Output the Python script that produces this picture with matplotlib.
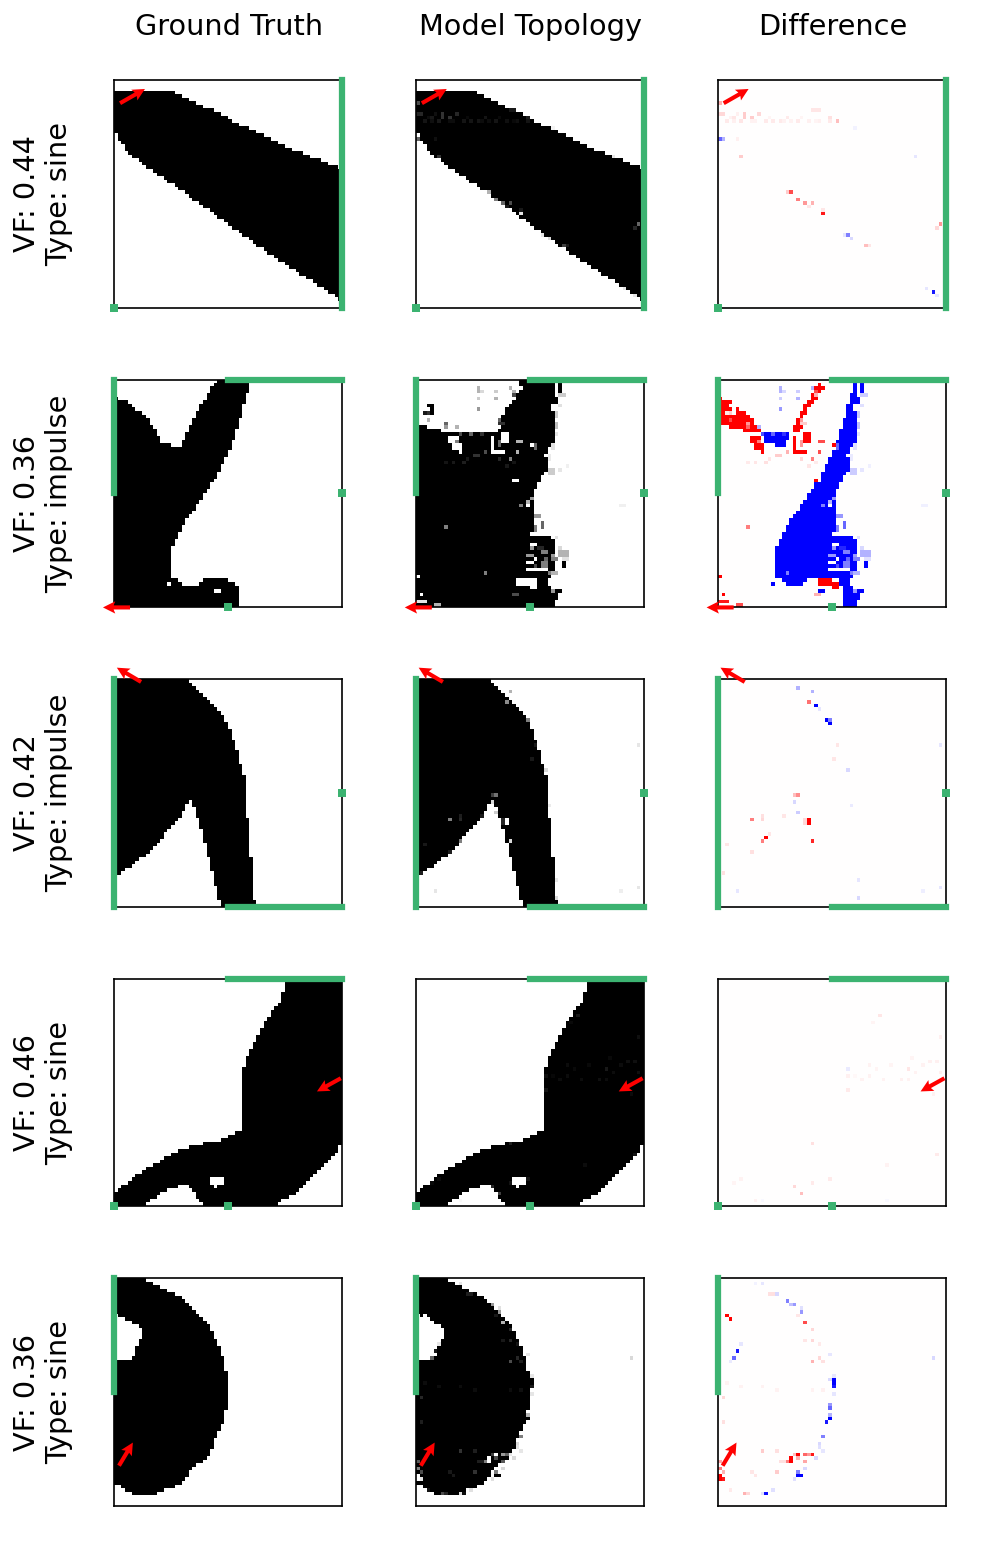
import numpy as np
import matplotlib
matplotlib.use('Agg')
import matplotlib.pyplot as plt
from matplotlib.path import Path

N = 64
col_titles = ['Ground Truth', 'Model Topology', 'Difference']
row_labels = ['VF: 0.44\nType: sine', 'VF: 0.36\nType: impulse', 'VF: 0.42\nType: impulse',
              'VF: 0.46\nType: sine', 'VF: 0.36\nType: sine']

# ground truth outlines, (col, row) in cell units
truth0 = [(0, 3), (15, 3), (18, 4), (23, 6.5), (29, 9), (35, 12.4), (41, 15), (48, 18.5), (55, 21.5), (64, 25),
          (64, 62), (58, 58), (52, 54.4), (41, 47), (28.7, 38), (18.5, 30.6), (8, 23.6), (3, 19.4), (0.7, 15.2), (0, 15)]
truth1 = [(0, 5), (4.2, 6.8), (8.4, 10), (12, 14.7), (13, 18), (16, 18), (16.3, 19), (19, 19), (20, 16), (23, 10),
          (26, 5), (28, 1), (29.3, 0), (38, 0), (38, 4), (37, 4), (36, 9), (34, 15.6), (32, 20.8), (30, 25.5), (27, 30),
          (25, 33), (23, 36), (20, 39.5), (18, 44), (17, 46), (16, 48.6), (16, 56), (18, 56), (19, 58), (23, 58),
          (26, 56), (30, 56), (33, 57), (35, 59), (35, 64), (0, 64)]
truth2 = [(0, 0), (20, 0), (24, 4), (29.7, 9), (32, 13.3), (34, 18), (35.7, 25), (37, 29), (37, 39), (38, 39),
          (38, 49.7), (39, 50), (39, 62), (40, 62), (40, 64), (30, 64), (29, 59.5), (27, 52), (25, 43.7), (23, 37),
          (21.7, 34), (21.3, 34), (20, 35.7), (18.5, 39), (14, 44), (8, 50), (5.4, 52), (1, 55), (0, 55)]
truth3 = [(0, 61), (3, 58), (7, 55), (12, 52), (17, 49), (22, 47), (30, 45.7), (34, 43.4), (36, 43), (36, 27),
          (37, 23), (40, 17), (42.7, 12), (47, 6), (48, 3), (49, 0), (64, 0), (64, 46.6), (62, 49.4), (57.6, 54),
          (52, 60), (46, 63), (46, 64), (25, 64), (24, 62.5), (21, 58), (19, 58), (14, 60), (9, 63.5), (9, 64), (0, 64)]
truth4 = [(0, 0), (8, 0), (12, 2), (18, 5), (23, 10), (27, 14), (29, 18), (31, 24), (32, 29), (32, 34.7), (31, 40),
          (29, 44), (27, 49.4), (22, 53.6), (19, 57.4), (12, 60.6), (6, 60.8), (3, 59.7), (2, 57.8), (0, 57.8)]
truth_outlines = [truth0, truth1, truth2, truth3, truth4]

# holes in the ground truth, (col0, col1, row0, row1)
holes1 = [(15, 16, 57, 58), (28, 30, 59, 60)]
holes3 = [(27, 31, 56, 58), (28, 29, 58, 59)]
hole4_outline = [(0, 10), (5.4, 13), (8, 14), (8, 16.8), (7, 17), (6, 21), (4, 23.8), (3, 23), (0, 23)]

# difference specks, (col, row, value)
diff0 = [(0, 6, .3), (0, 9, .15), (1, 9, .15), (4, 10, .1), (7, 9, .2), (7, 10, .2), (11, 9, .15), (9, 10, .2),
         (6, 11, .1), (2, 11, .08), (4, 11, .06), (9, 11, .05), (13, 11, .08), (15, 11, .08), (17, 11, .08), (19, 10, .08),
         (22, 11, .08), (25, 11, .06), (28, 11, .06), (31, 11, .08), (26, 8, .1), (27, 8, .1), (28, 8, .1),
         (33, 11, .25), (31, 10, .12), (0, 16, -.6), (1, 16, -.3), (5, 16, .06), (6, 21, .2), (20, 31, .7), (19, 31, .2),
         (22, 33, .5), (24, 34, .4), (26, 34, .3), (25, 35, .1), (29, 37, .9), (29, 36, .1), (36, 43, -.5), (35, 43, -.1),
         (37, 44, -.15), (41, 46, .25), (42, 46, .1), (55, 21, -.1), (62, 40, .4), (61, 41, .15), (60, 59, -.9),
         (58, 58, -.1), (61, 60, -.1), (38, 13, -.05), (3, 10, .05), (5, 9, .06), (10, 11, .05), (14, 10, .04),
         (18, 11, .05), (20, 11, .05), (23, 10, .04), (27, 11, .04)]
diff2 = [(22, 2, -.3), (26, 3, -.3), (25, 6, .55), (27, 7, -1), (28, 8, -.1), (30, 11, -1), (31, 11, -.5), (31, 12, -1),
         (33, 18, .1), (32, 22, .1), (36, 25, -.15), (21, 32, .25), (22, 32, .45), (21, 34, -.15), (22, 37, -.2), (9, 39, .5),
         (12, 38, .12), (12, 39, .15), (18, 38, .1), (25, 39, 1), (25, 40, 1), (24, 39, .15), (24, 40, .15), (13, 44, 1),
         (12, 45, .5), (26, 45, .85), (14, 43, .1), (2, 46, .1), (9, 48, .12), (1, 54, .12), (5, 59, -.1), (39, 56, -.1),
         (39, 61, -.15), (62, 58, -.1), (62, 18, -.1), (57, 59, -.07), (37, 35, -.08)]
diff3 = [(45, 10, .1), (43, 12, .04), (62, 16, .06), (36, 25, -.08), (36, 27, .06), (36, 31, .08), (53, 25, .1),
         (54, 22, .04), (59, 23, .06), (61, 23, .06), (42, 24, .05), (42, 27, .05), (40, 28, .05), (46, 28, .05),
         (51, 28, .06), (53, 28, .05), (60, 32, .05), (62, 26, .06), (55, 26, .05), (38, 27, .03), (44, 25, .04),
         (48, 24, .04), (57, 24, .05), (26, 46, .12), (61, 49, .08), (21, 58, .15), (23, 60, .25), (26, 57, .08),
         (31, 56, .08), (47, 52, .05), (6, 56, .05), (4, 57, .04), (10, 62, .05), (12, 62, -.03), (47, 62, -.03)]
diff4 = [(2, 10, 1), (3, 11, 1), (12, 1, -.1), (10, 1, -.05), (14, 4, .12), (15, 4, .12), (16, 4, -.15), (19, 6, -.5),
         (20, 7, -.25), (21, 7, -.4), (23, 9, -.4), (23, 8, -.12), (22, 10, .1), (24, 12, .7), (26, 14, .15), (24, 17, .1),
         (26, 17, .15), (28, 18, .08), (26, 23, .3), (28, 22, .15), (29, 23, .12), (31, 21, -.1), (5, 20, -.9), (6, 18, -.1),
         (4, 22, -.6), (3, 23, -.08), (32, 27, -.1), (31, 28, -.15), (32, 28, -1), (32, 29, -1), (32, 30, -.9), (32, 32, -.1),
         (31, 35, -.4), (31, 36, -.6), (31, 38, -.3), (31, 39, -1), (30, 40, -.9), (29, 44, -.5), (28, 46, -.15),
         (28, 47, -.12), (29, 48, -.1), (27, 50, -.15), (22, 49, 1), (24, 49, .6), (25, 49, .4), (26, 49, .9), (21, 49, .25),
         (20, 50, 1), (20, 51, 1), (19, 51, .5), (22, 50, .3), (17, 51, .12), (18, 51, .12), (24, 51, .35), (12, 48, .2),
         (16, 48, .12), (24, 53, -.15), (22, 54, -.5), (22, 55, -1), (23, 55, -1), (21, 56, -.12), (16, 54, .2), (9, 54, .1),
         (10, 55, .1), (0, 51, .35), (0, 53, .5), (0, 55, 1), (0, 56, 1), (1, 56, .9), (1, 54, .3), (7, 60, .3), (8, 60, .15),
         (12, 60, -.12), (13, 60, -.95), (15, 59, -.12), (3, 59, .08), (1, 40, .12), (1, 33, .15), (60, 22, -.15),
         (2, 29, .05), (6, 30, .05), (12, 30, .05), (16, 31, .05), (26, 31, .05), (29, 31, .06)]
diff_specks = [diff0, None, diff2, diff3, diff4]

# the second row's model is noisy enough to have its own outline
model1_outline = [(0, 13), (5, 14), (8, 15), (22, 15), (24, 14), (24, 11), (25, 9), (28, 6), (28.5, 3), (29, 0), (40, 0),
                  (40, 6), (39, 7), (39, 17), (37, 19), (36.5, 26), (35, 28), (33.5, 31), (32.5, 33), (32.5, 37), (33, 40),
                  (32.5, 42), (33, 44), (38, 44), (39, 46), (39.5, 52), (38, 55), (37, 56), (37, 58), (39.5, 60),
                  (39.5, 62), (39, 64), (0, 64)]
# (col0, col1, row0, row1, density) patches on top of that outline
model1_patches = [(3, 5, 7, 8, 1), (4, 5, 8, 10, 1), (3, 4, 9, 10, .8), (2, 3, 9, 10, .9), (3, 4, 11, 12, .3),
                  (8, 9, 12, 13, .6), (8, 9, 13, 14, .4), (11, 12, 13, 14, .3), (17, 18, 2, 4, .3), (18, 19, 3, 4, .15),
                  (22, 23, 3, 4, .2), (17, 18, 5, 6, .2), (22, 23, 5, 6, .3), (17, 18, 8, 9, .4), (26, 27, 2, 3, .3),
                  (27, 28, 3, 4, .3), (27, 28, 4, 5, .7), (28, 29, 1, 2, 0), (29, 30, 2, 3, 0), (28, 29, 3, 4, 0),
                  (23, 24, 11, 12, .6), (23, 25, 12, 13, .8), (39, 40, 1, 5, 0), (40, 41, 1, 4, 1), (40, 42, 4, 5, .2),
                  (38, 39, 7, 9, 0), (39, 40, 9, 11, .2), (9, 12, 16, 18, 0), (10, 13, 18, 20, 0), (12, 13, 20, 21, 0),
                  (11, 12, 17, 18, .5), (21, 22, 16, 21, 0), (22, 25, 20, 21, 0), (24, 26, 15, 18, 0), (23, 24, 17, 19, .6),
                  (28, 30, 17, 18, .3), (32, 33, 18, 19, 0), (28, 29, 20, 21, .3), (26, 27, 22, 23, .5), (27, 29, 28, 29, 0),
                  (31, 32, 34, 35, .3), (31, 32, 35, 36, 0), (29, 30, 35, 36, .5), (32, 33, 33, 34, .4), (37, 39, 25, 27, .2),
                  (32, 34, 43, 44, 0), (32, 34, 46, 47, 0), (40, 43, 48, 50, .3), (33, 34, 50, 51, 0), (35, 37, 48, 49, .5),
                  (38, 39, 49, 50, .4), (31, 33, 51, 52, 0), (35, 37, 51, 53, .5), (31, 33, 49, 50, .4), (33, 34, 52, 53, .7),
                  (39, 41, 51, 53, 0), (41, 42, 51, 53, 1), (31, 37, 53, 54, 0), (38, 40, 54, 55, .3), (28, 34, 56, 58, 0),
                  (32, 34, 58, 59, 0), (37, 39, 56, 58, 0), (38, 39, 59, 60, .4), (39, 41, 59, 60, 1), (37, 38, 54, 55, .5),
                  (0, 1, 55, 56, 0), (1, 2, 60, 61, 0), (0, 3, 62, 63, .1), (5, 7, 63, 64, .3), (8, 9, 41, 42, .5), (19, 20, 54, 55, .5),
                  (27, 29, 60, 61, .7), (57, 59, 35, 36, .06), (35, 36, 40, 42, .6), (36, 37, 21, 22, 0), (33, 34, 18, 20, .6),
                  # faint fringe around the body
                  (40, 41, 7, 8, .12), (39, 40, 12, 14, .25), (39, 40, 15, 16, .1), (38, 39, 18, 20, .12),
                  (37, 38, 21, 23, .08), (40, 41, 25, 26, .1), (42, 43, 24, 25, .06), (33, 35, 38, 39, .4),
                  (33, 34, 41, 43, .5), (40, 41, 47, 48, .15), (41, 43, 50, 51, .12), (38, 40, 50, 51, .5),
                  (34, 36, 47, 48, .85), (36, 37, 50, 51, .6), (32, 33, 47, 48, .4), (39, 40, 44, 45, .12),
                  (14, 15, 22, 23, .9), (8, 9, 23, 24, .92), (10, 11, 23, 24, .9), (13, 14, 23, 24, .88),
                  (23, 24, 22, 23, .85), (25, 26, 24, 25, .9), (27, 28, 23, 24, .92), (16, 18, 21, 22, .8),
                  (19, 20, 20, 21, .7), (12, 13, 15, 16, .7), (15, 16, 15, 16, .6), (18, 19, 15, 16, .8)]

# boundary conditions: segments and single nodes in image coordinates
bar_lines = [[((63.5, -0.5), (63.5, 63.5))],
             [((-0.5, -0.5), (-0.5, 31.5)), ((31.5, -0.5), (63.5, -0.5))],
             [((-0.5, -0.5), (-0.5, 63.5)), ((31.5, 63.5), (63.5, 63.5))],
             [((31.5, -0.5), (63.5, -0.5))],
             [((-0.5, -0.5), (-0.5, 31.5))]]
bar_points = [[(-0.5, 63.5)],
              [(63.5, 31.5), (31.5, 63.5)],
              [(63.5, 31.5)],
              [(-0.5, 63.5), (31.5, 63.5)],
              []]
# loads: start col, start row, d col, d row
load_arrows = [(1.2, 6.0, 7.0, -4.0),
               (4.0, 63.5, -7.6, 0.0),
               (7.1, 0.3, -6.8, -4.0),
               (63.2, 27.5, -6.7, 3.7),
               (0.9, 52.2, 3.9, -6.5)]


def fill_polygon(outline):
    cc, rr = np.meshgrid(np.arange(N) + 0.5, np.arange(N) + 0.5)
    pts = np.column_stack([cc.ravel(), rr.ravel()])
    return Path(outline).contains_points(pts).reshape(N, N).astype(float)


truth = [fill_polygon(o) for o in truth_outlines]
for c0, c1, r0, r1 in holes1:
    truth[1][r0:r1, c0:c1] = 0
for c0, c1, r0, r1 in holes3:
    truth[3][r0:r1, c0:c1] = 0
truth[4][fill_polygon(hole4_outline) > 0] = 0

models = []
diffs = []
for i in range(5):
    if diff_specks[i] is None:
        m = fill_polygon(model1_outline)
        for c0, c1, r0, r1, v in model1_patches:
            m[r0:r1, c0:c1] = v
        d = truth[i] - m
    else:
        d = np.zeros((N, N))
        for c, r, v in diff_specks[i]:
            d[r, c] = v
        m = np.clip(truth[i] - d, 0, 1)
    models.append(m)
    diffs.append(d)

fig, axes = plt.subplots(5, 3, figsize=(996 / 150, 1557 / 150), dpi=150)
fig.subplots_adjust(left=114 / 996, right=945.5 / 996, top=1 - 80 / 1557, bottom=1 - 1506 / 1557,
                    wspace=0.3245, hspace=0.3136)

for i in range(5):
    images = [truth[i], models[i], diffs[i]]
    for j in range(3):
        ax = axes[i, j]
        if j == 2:
            ax.imshow(images[j], cmap='bwr', vmin=-1, vmax=1)
        else:
            ax.imshow(images[j], cmap='gray_r', vmin=0, vmax=1)
        for a, b in bar_lines[i]:
            ax.plot([a[0], b[0]], [a[1], b[1]], color='mediumseagreen', lw=3, solid_capstyle='projecting',
                    clip_on=False, zorder=3)
        for x, y in bar_points[i]:
            ax.plot([x], [y], 's', color='mediumseagreen', ms=3.4, mew=0, clip_on=False, zorder=3)
        x, y, dx, dy = load_arrows[i]
        ax.quiver(x, y, dx, dy, color='red', angles='xy', scale_units='xy', scale=1, width=0.018,
                  headwidth=3, headlength=3, headaxislength=2.6, clip_on=False, zorder=4)
        ax.set_xlim(-0.5, 63.5)
        ax.set_ylim(63.5, -0.5)
        ax.set_xticks([])
        ax.set_yticks([])
        if i == 0:
            ax.set_title(col_titles[j], fontsize=13.8, pad=21.5, x=0.505)
    axes[i, 0].set_ylabel(row_labels[i], fontsize=13.8, labelpad=19.5)

fig.savefig('out.png', dpi=150)
